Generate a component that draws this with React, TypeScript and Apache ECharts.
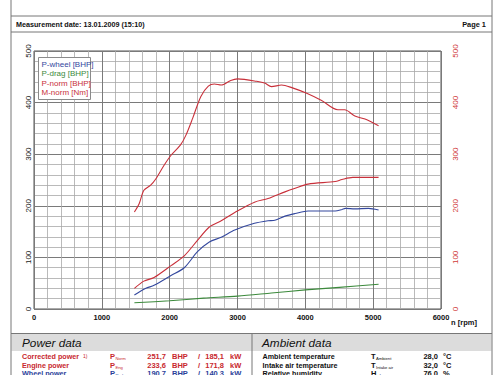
import React, { useEffect, useRef } from "react";
import * as echarts from "echarts";

// ---- data ----
const seriesNames = ["P-wheel [BHP]", "P-drag [BHP]", "P-norm [BHP]", "M-norm [Nm]"];

const mNormRpm = [1480, 1550, 1620, 1720, 1800, 1920, 2020, 2160, 2240, 2340, 2460, 2570, 2660, 2760, 2900, 3000, 3100, 3250, 3400, 3500, 3650, 3800, 4020, 4240, 4480, 4580, 4730, 4880, 5080];
const mNormVal = [188, 204, 230, 240, 253, 279, 298, 318, 337, 370, 412, 432, 436, 434, 443, 446, 445, 442, 438, 431, 434, 429, 418, 404, 386, 386, 374, 368, 355];

const pNormRpm = [1480, 1620, 1770, 2020, 2215, 2410, 2585, 2760, 2960, 3250, 3450, 3700, 3850, 4040, 4440, 4540, 4700, 5080];
const pNormVal = [40, 54, 61, 84, 103, 133, 159, 171, 187, 207, 214, 227, 234, 242, 247, 251, 255, 255];

const pWheelRpm = [1480, 1650, 1770, 2020, 2215, 2410, 2585, 2760, 2960, 3250, 3450, 3550, 3700, 3850, 4040, 4440, 4540, 4590, 4730, 4930, 5080];
const pWheelVal = [27, 40, 46, 65, 80, 111, 130, 139, 153, 166, 171, 172, 180, 185, 190, 190, 193, 195, 194, 195, 192];

const pDragRpm = [1480, 2000, 2500, 3000, 3500, 4000, 4500, 5080];
const pDragVal = [12, 16, 21, 25, 31, 37, 42, 48];

const headerLeft = "Measurement date: 13.01.2009 (15:10)";
const headerRight = "Page 1";

const powerRows = [
  { label: "Corrected power", note: "1)", sym: "P", sub: "Norm", bhp: "251,7", kw: "185,1", color: "#c8282e" },
  { label: "Engine power", note: "", sym: "P", sub: "Eng", bhp: "233,6", kw: "171,8", color: "#c8282e" },
  { label: "Wheel power", note: "", sym: "P", sub: "Rad", bhp: "190,7", kw: "140,3", color: "#2a3f9a" },
];
const ambientRows = [
  { label: "Ambient temperature", sym: "T", sub: "Ambient", val: "28,0", unit: "°C" },
  { label: "Intake air temperature", sym: "T", sub: "Intake air", val: "32,0", unit: "°C" },
  { label: "Relative humidity", sym: "H", sub: "rel", val: "76,0", unit: "%" },
];

const FONT = 'Arial, "Liberation Sans", sans-serif';
const RED = "#c8303a";
const BLUE = "#34489e";
const GREEN = "#3c8a3c";

function pairs(xs: number[], ys: number[]) {
  return xs.map((x, i) => [x, ys[i]]);
}

function txt(x: number, y: number, text: string, size: number, color: string, opts: any = {}) {
  return {
    type: "text",
    style: {
      x,
      y,
      text,
      fill: color,
      font: `${opts.italic ? "italic " : ""}${opts.bold ? "bold " : ""}${size}px ${FONT}`,
      align: opts.align || "left",
      textAlign: opts.align || "left",
      verticalAlign: "middle",
      textVerticalAlign: "middle",
    },
    z: 10,
  };
}

function hline(x1: number, x2: number, y: number, color = "#666", w = 1) {
  return { type: "line", shape: { x1, y1: y, x2, y2: y }, style: { stroke: color, lineWidth: w }, z: 5 };
}
function vline(x: number, y1: number, y2: number, color = "#666", w = 1) {
  return { type: "line", shape: { x1: x, y1, x2: x, y2 }, style: { stroke: color, lineWidth: w }, z: 5 };
}

export default function App() {
  const ref = useRef<HTMLDivElement>(null);

  useEffect(() => {
    if (!ref.current) return;
    const chart = echarts.init(ref.current, undefined, { renderer: "svg" });

    const graphics: any[] = [];
    // page frame
    graphics.push(vline(11, 0, 375, "#777"));
    graphics.push(vline(492, 0, 375, "#777"));
    graphics.push(hline(11, 492, 16, "#777"));
    graphics.push(hline(11, 492, 32, "#777"));
    graphics.push(txt(16, 24.5, headerLeft, 7.2, "#111", { bold: true }));
    graphics.push(txt(486, 24.5, headerRight, 7.4, "#111", { bold: true, align: "right" }));

    // legend box
    graphics.push({
      type: "rect",
      shape: { x: 38.5, y: 57.5, width: 52, height: 42 },
      style: { fill: "#fff", stroke: "#8a8a8a", lineWidth: 1 },
      z: 8,
    });
    const legendColors = [BLUE, GREEN, RED, RED];
    seriesNames.forEach((n, i) => {
      graphics.push(txt(41.5, 64.5 + i * 9.4, n, 8, legendColors[i]));
    });

    // axis name
    graphics.push(txt(464, 322.5, "n [rpm]", 7.5, "#111", { bold: true, align: "center" }));

    // bottom tables
    graphics.push(hline(11, 492, 333.5, "#777"));
    graphics.push({
      type: "rect",
      shape: { x: 11.5, y: 334, width: 480, height: 17 },
      style: { fill: "#dcdcdc" },
      z: 4,
    });
    graphics.push(vline(252, 333.5, 375, "#777"));
    graphics.push(txt(22, 342.5, "Power data", 11.8, "#111", { italic: true }));
    graphics.push(txt(262, 342.5, "Ambient data", 11.8, "#111", { italic: true }));

    powerRows.forEach((r, i) => {
      const y = 356.5 + i * 8.5;
      graphics.push(txt(22, y, r.label, 7.2, r.color, { bold: true }));
      if (r.note) graphics.push(txt(83, y - 0.5, r.note, 5, r.color));
      graphics.push(txt(110, y, r.sym, 7.5, r.color, { bold: true }));
      graphics.push(txt(115.5, y + 2, r.sub, 4.2, r.color));
      graphics.push(txt(166, y, r.bhp, 7.5, r.color, { bold: true, align: "right" }));
      graphics.push(txt(172, y, "BHP", 7.5, r.color, { bold: true }));
      graphics.push(txt(198, y, "/", 7.5, r.color, { bold: true }));
      graphics.push(txt(224, y, r.kw, 7.5, r.color, { bold: true, align: "right" }));
      graphics.push(txt(230, y, "kW", 7.5, r.color, { bold: true }));
    });
    ambientRows.forEach((r, i) => {
      const y = 356.5 + i * 8.5;
      graphics.push(txt(262.5, y, r.label, 7.2, "#111", { bold: true }));
      graphics.push(txt(371, y, r.sym, 7.5, "#111", { bold: true }));
      graphics.push(txt(376, y + 2, r.sub, 4.2, "#111"));
      graphics.push(txt(438, y, r.val, 7.5, "#111", { bold: true, align: "right" }));
      graphics.push(txt(443, y, r.unit, 7.5, "#111", { bold: true }));
    });

    const lineCommon = {
      type: "line" as const,
      showSymbol: false,
      smooth: 0.3,
      z: 3,
    };

    chart.setOption({
      animation: false,
      backgroundColor: "#fff",
      grid: {
        left: 34,
        right: 59,
        top: 51,
        height: 258,
        show: true,
        borderColor: "#555",
        borderWidth: 1,
        backgroundColor: "transparent",
      },
      xAxis: {
        type: "value",
        min: 0,
        max: 6000,
        interval: 1000,
        axisLine: { show: false },
        axisTick: { show: false },
        axisLabel: {
          color: "#111",
          fontSize: 7.5,
          fontWeight: "bold",
          fontFamily: FONT,
          margin: 4,
          formatter: (v: number) => String(v),
        },
        splitLine: { show: true, lineStyle: { color: "#7a7a7a", width: 1 } },
        minorTick: { show: false, splitNumber: 5 },
        minorSplitLine: { show: true, lineStyle: { color: "#a8a8a8", width: 0.8 } },
      },
      yAxis: [
        {
          type: "value",
          min: 0,
          max: 500,
          interval: 100,
          position: "left",
          axisLine: { show: false },
          axisTick: { show: false },
          axisLabel: { color: "#222", fontSize: 8, fontFamily: FONT, rotate: 90, margin: 2 },
          splitLine: { show: true, lineStyle: { color: "#7a7a7a", width: 1 } },
          minorTick: { show: false, splitNumber: 5 },
          minorSplitLine: { show: true, lineStyle: { color: "#a8a8a8", width: 0.8 } },
        },
        {
          type: "value",
          min: 0,
          max: 500,
          interval: 100,
          position: "right",
          axisLine: { show: false },
          axisTick: { show: false },
          axisLabel: { color: "#d03838", fontSize: 8, fontFamily: FONT, rotate: 90, margin: 10 },
          splitLine: { show: false },
        },
      ],
      series: [
        {
          ...lineCommon,
          name: seriesNames[0],
          data: pairs(pWheelRpm, pWheelVal),
          lineStyle: { color: BLUE, width: 1.1 },
          itemStyle: { color: BLUE },
        },
        {
          ...lineCommon,
          name: seriesNames[1],
          data: pairs(pDragRpm, pDragVal),
          lineStyle: { color: GREEN, width: 1.1 },
          itemStyle: { color: GREEN },
        },
        {
          ...lineCommon,
          name: seriesNames[2],
          data: pairs(pNormRpm, pNormVal),
          lineStyle: { color: RED, width: 1.1 },
          itemStyle: { color: RED },
        },
        {
          ...lineCommon,
          name: seriesNames[3],
          yAxisIndex: 1,
          data: pairs(mNormRpm, mNormVal),
          lineStyle: { color: RED, width: 1.1 },
          itemStyle: { color: RED },
        },
      ],
      graphic: graphics,
    });

    return () => chart.dispose();
  }, []);

  return (
    <div
      ref={ref}
      style={{ position: "fixed", left: 0, top: 0, width: 500, height: 375, background: "#fff" }}
    />
  );
}
